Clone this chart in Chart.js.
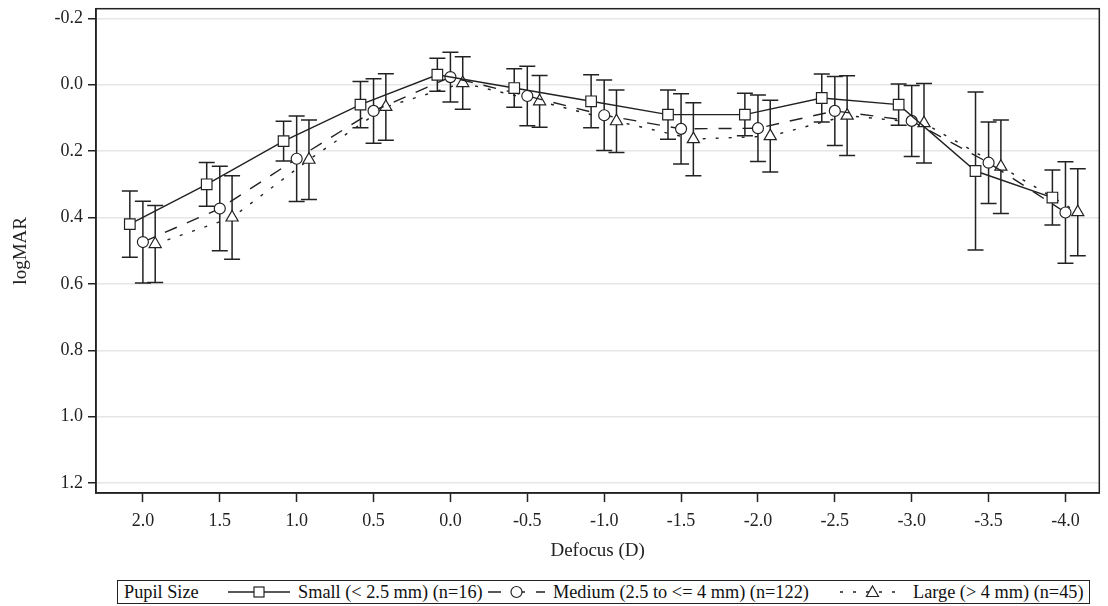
<!DOCTYPE html>
<html>
<head>
<meta charset="utf-8">
<script src="https://cdn.jsdelivr.net/npm/chart.js@4"></script>
<style>
  body { margin: 0; background: #fff; font-family: "Liberation Serif", serif; }
  #wrap { position: relative; width: 1108px; height: 606px; }
  #box { position: absolute; left: 0; top: 0; width: 1108px; height: 570px; }
  #legend { position: absolute; left: 117px; top: 580px; width: 971px; height: 22px;
            border: 1px solid #222; font-size: 18.3px; color: #111; white-space: nowrap; }
  #legend > * { position: absolute; top: 0; line-height: 22px; }
  #legend svg { top: 1px; }
</style>
</head>
<body>
<div id="wrap">
  <div id="box"><canvas id="chart"></canvas></div>
  <div id="legend"></div>
</div>
<script>
const defocus = [2.0, 1.5, 1.0, 0.5, 0.0, -0.5, -1.0, -1.5, -2.0, -2.5, -3.0, -3.5, -4.0];
const yTicks = [-0.2, 0.0, 0.2, 0.4, 0.6, 0.8, 1.0, 1.2];

const seriesNames = ['Small (< 2.5 mm) (n=16)', 'Medium (2.5 to <= 4 mm) (n=122)', 'Large (> 4 mm) (n=45)'];

const smallMean = [0.42, 0.30, 0.17, 0.06, -0.03, 0.01, 0.05, 0.09, 0.09, 0.04, 0.06, 0.26, 0.34];
const smallErr = [0.10, 0.066, 0.06, 0.07, 0.05, 0.058, 0.08, 0.074, 0.064, 0.072, 0.062, 0.238, 0.083];

const mediumMean = [0.474, 0.373, 0.223, 0.079, -0.023, 0.034, 0.092, 0.133, 0.131, 0.079, 0.109, 0.235, 0.385];
const mediumErr = [0.123, 0.127, 0.129, 0.097, 0.075, 0.09, 0.106, 0.106, 0.10, 0.104, 0.107, 0.123, 0.153];

const largeMean = [0.48, 0.40, 0.226, 0.067, -0.005, 0.05, 0.11, 0.164, 0.155, 0.093, 0.116, 0.247, 0.384];
const largeErr = [0.116, 0.126, 0.12, 0.10, 0.079, 0.078, 0.094, 0.11, 0.108, 0.12, 0.12, 0.141, 0.131];

const means = [smallMean, mediumMean, largeMean];
const errs = [smallErr, mediumErr, largeErr];

// horizontal dodge so the three groups don't sit on top of each other
const shifts = [0.085, 0, -0.08];
const markers = ['rect', 'circle', 'triangle'];
const radii = [7.5, 5.5, 7];
const dashes = [[], [13, 11], [3, 10]];

const ink = '#222';
const font = { family: '"Liberation Serif", serif', size: 18 };
const titleFont = { family: '"Liberation Serif", serif', size: 19 };

const datasets = seriesNames.map((name, i) => ({
  label: name,
  data: defocus.map((d, j) => ({ x: d + shifts[i], y: means[i][j], err: errs[i][j] })),
  borderColor: ink,
  borderWidth: 1.4,
  borderDash: dashes[i],
  fill: false,
  tension: 0,
  pointStyle: markers[i],
  pointRadius: radii[i],
  pointBackgroundColor: '#fff',
  pointBorderColor: ink,
  pointBorderWidth: 1.2
}));

const errorBars = {
  id: 'errorBars',
  beforeDatasetsDraw(chart) {
    const ctx = chart.ctx;
    const y = chart.scales.y;
    ctx.save();
    ctx.strokeStyle = ink;
    ctx.lineWidth = 1.5;
    chart.data.datasets.forEach((ds, i) => {
      chart.getDatasetMeta(i).data.forEach((pt, j) => {
        const v = ds.data[j];
        const top = y.getPixelForValue(v.y - v.err);
        const bot = y.getPixelForValue(v.y + v.err);
        ctx.beginPath();
        ctx.moveTo(pt.x, top); ctx.lineTo(pt.x, bot);
        ctx.moveTo(pt.x - 8, top); ctx.lineTo(pt.x + 8, top);
        ctx.moveTo(pt.x - 8, bot); ctx.lineTo(pt.x + 8, bot);
        ctx.stroke();
      });
    });
    ctx.restore();
  }
};

const frame = {
  id: 'frame',
  afterDraw(chart) {
    const { ctx, chartArea: a } = chart;
    ctx.save();
    ctx.strokeStyle = ink;
    ctx.lineWidth = 1.5;
    ctx.strokeRect(a.left, a.top, a.right - a.left, a.bottom - a.top);
    ctx.restore();
  }
};

const chart = new Chart(document.getElementById('chart'), {
  type: 'line',
  data: { datasets: datasets },
  plugins: [errorBars, frame],
  options: {
    responsive: true,
    maintainAspectRatio: false,
    animation: false,
    layout: { padding: { top: 0, right: 6, left: 0, bottom: 0 } },
    plugins: {
      legend: { display: false },
      tooltip: { enabled: false }
    },
    scales: {
      x: {
        type: 'linear',
        reverse: true,
        min: -4.22,
        max: 2.305,
        afterBuildTicks: s => { s.ticks = defocus.map(v => ({ value: v })); },
        afterFit: s => { s.height = 77; },
        ticks: {
          callback: v => v.toFixed(1),
          font: font,
          color: ink,
          padding: 8,
          autoSkip: false,
          maxRotation: 0
        },
        grid: { drawOnChartArea: false, drawTicks: true, tickLength: 9, tickColor: ink, tickWidth: 1.5 },
        border: { color: ink, width: 1.5 },
        title: { display: true, text: 'Defocus (D)', font: titleFont, color: ink, padding: 8 }
      },
      y: {
        type: 'linear',
        reverse: true,
        min: -0.229,
        max: 1.23,
        afterBuildTicks: s => { s.ticks = yTicks.map(v => ({ value: v })); },
        afterFit: s => { s.width = 96; s.paddingTop = 0; s.paddingBottom = 0; },
        ticks: {
          callback: v => v.toFixed(1),
          font: font,
          color: ink,
          padding: 5
        },
        grid: { color: '#e6e6e6', lineWidth: 1.5, tickColor: ink, tickLength: 8, tickWidth: 1.5 },
        border: { color: ink, width: 1.5 },
        title: { display: true, text: 'logMAR', font: titleFont, color: ink, padding: { top: 10, bottom: 4 } }
      }
    }
  }
});

// legend in a box under the plot, built from the datasets
const legend = document.getElementById('legend');
const legendLeft = 118;
const sampleX = [228, 488, 840];
const sampleW = [62, 57, 65];
const labelX = [298, 553, 913];

const head = document.createElement('span');
head.textContent = 'Pupil Size';
head.style.left = (124 - legendLeft) + 'px';
legend.appendChild(head);

chart.data.datasets.forEach((ds, i) => {
  const ns = 'http://www.w3.org/2000/svg';
  const w = sampleW[i], c = w / 2;
  const svg = document.createElementNS(ns, 'svg');
  svg.setAttribute('width', w);
  svg.setAttribute('height', 20);
  svg.style.left = (sampleX[i] - legendLeft) + 'px';
  const line = document.createElementNS(ns, 'line');
  line.setAttribute('x1', 0); line.setAttribute('x2', w);
  line.setAttribute('y1', 10); line.setAttribute('y2', 10);
  line.setAttribute('stroke', ink);
  line.setAttribute('stroke-width', 1.4);
  if (ds.borderDash.length) line.setAttribute('stroke-dasharray', ds.borderDash.join(' '));
  svg.appendChild(line);
  let m;
  if (ds.pointStyle === 'rect') {
    m = document.createElementNS(ns, 'rect');
    m.setAttribute('x', c - 5); m.setAttribute('y', 5);
    m.setAttribute('width', 10); m.setAttribute('height', 10);
  } else if (ds.pointStyle === 'circle') {
    m = document.createElementNS(ns, 'circle');
    m.setAttribute('cx', c); m.setAttribute('cy', 10); m.setAttribute('r', 5.5);
  } else {
    m = document.createElementNS(ns, 'polygon');
    m.setAttribute('points', `${c},4 ${c + 6},14.5 ${c - 6},14.5`);
  }
  m.setAttribute('fill', '#fff');
  m.setAttribute('stroke', ink);
  m.setAttribute('stroke-width', 1.2);
  svg.appendChild(m);
  legend.appendChild(svg);

  const label = document.createElement('span');
  label.textContent = ds.label;
  label.style.left = (labelX[i] - legendLeft) + 'px';
  legend.appendChild(label);
});
</script>
</body>
</html>
